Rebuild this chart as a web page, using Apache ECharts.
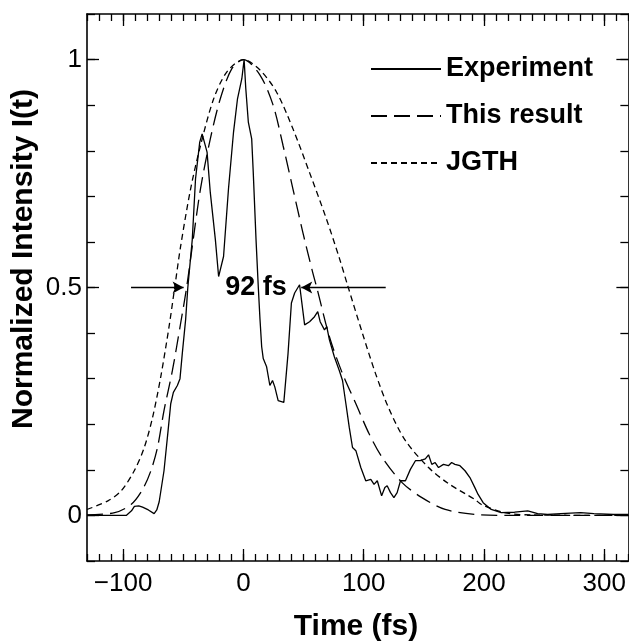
<!DOCTYPE html>
<html>
<head>
<meta charset="utf-8">
<script src="https://cdn.jsdelivr.net/npm/echarts@6/dist/echarts.min.js"></script>
<style>
html,body{margin:0;padding:0;background:#fff;}
#c{width:629px;height:643px;}
</style>
</head>
<body>
<div id="c"></div>
<script>
const FONT = "'Liberation Sans', Arial, Helvetica, sans-serif";
const xMajorTicks = [-100, 0, 100, 200, 300];
const yMajorTicks = [0, 0.5, 1];
const seriesNames = ['Experiment', 'This result', 'JGTH'];

const experiment = [
[-130,0],[-97.4,0],[-93,0.01],[-90.6,0.02],[-87,0.021],[-83.8,0.018],[-79,0.012],[-74.2,0.004],[-72,0.012],[-70,0.03],
[-66,0.098],[-62.6,0.186],[-60.4,0.245],[-58.2,0.27],[-54.9,0.285],[-52.7,0.30],[-50.8,0.355],[-48,0.43],[-46.2,0.5],
[-42.5,0.605],[-39.8,0.738],[-36.3,0.819],[-34.3,0.837],[-33,0.841],[-30.2,0.797],[-27.5,0.708],[-23.3,0.605],[-20.6,0.524],
[-19.2,0.524],[-16.5,0.568],[-12.4,0.716],[-8.2,0.841],[-4.9,0.914],[-1.3,0.958],[0.6,1.0],[2,0.936],[4.1,0.863],[6.9,0.826],
[8.2,0.752],[10.5,0.605],[12.4,0.5],[13.8,0.43],[15.2,0.37],[16.5,0.344],[19.3,0.326],[22,0.285],[24.2,0.296],[26.1,0.282],
[28.9,0.252],[33.6,0.248],[37.1,0.355],[39.9,0.466],[42.6,0.488],[46.7,0.506],[50.9,0.418],[55,0.425],[59.1,0.436],[61.8,0.447],
[63.8,0.425],[67.4,0.407],[69.3,0.414],[71.5,0.385],[75.6,0.348],[79.7,0.318],[82.4,0.296],[85.2,0.245],[88,0.193],[90.7,0.149],
[93.5,0.142],[97.6,0.105],[101.7,0.076],[105.9,0.079],[108.6,0.068],[111.3,0.076],[114.9,0.043],[117.6,0.061],[119.5,0.065],
[122.3,0.05],[125.1,0.039],[127.8,0.05],[130.6,0.076],[134.7,0.076],[138.8,0.101],[143,0.12],[147.1,0.12],[151.2,0.124],
[153.9,0.133],[156.6,0.112],[159.4,0.116],[162.2,0.105],[166.3,0.112],[170.4,0.109],[173.1,0.116],[175.8,0.112],[180,0.109],
[184.2,0.098],[188.3,0.083],[192.4,0.061],[195.1,0.046],[199.3,0.028],[206,0.013],[214.3,0.006],[225.4,0.007],[236.4,0.01],
[244.6,0.004],[252.8,0.002],[263.8,0.004],[280.3,0.006],[291.3,0.004],[307.8,0.002],[320,0.002]
];

const thisResult = [
[-130,0.001],[-107,0.006],[-93.4,0.024],[-83.8,0.057],[-76.9,0.098],[-71.4,0.149],[-66,0.23],[-59,0.318],[-52.2,0.421],
[-47.2,0.5],[-42.5,0.59],[-35.7,0.716],[-27.5,0.826],[-19.2,0.914],[-9.6,0.98],[0,1],[13.8,0.966],[24.7,0.9],[33,0.811],
[41.2,0.716],[49.5,0.62],[57.7,0.532],[61,0.5],[71.5,0.392],[82.4,0.311],[93.5,0.245],[104.5,0.179],[115.4,0.127],
[131.9,0.072],[148.4,0.039],[167.7,0.013],[192.4,0.002],[220,0],[320,0]
];

const jgth = [
[-130,0.013],[-112.6,0.032],[-101.6,0.054],[-90.7,0.098],[-82.4,0.149],[-75.5,0.215],[-68.7,0.304],[-61.8,0.414],[-57.1,0.5],
[-52.2,0.59],[-43.9,0.716],[-35.7,0.811],[-24.7,0.914],[-13.7,0.973],[0,1],[13.8,0.977],[27.5,0.929],[41.2,0.848],[55,0.752],
[68.8,0.652],[79.7,0.565],[86.6,0.505],[98.9,0.4],[110,0.31],[121,0.234],[134.7,0.164],[153.9,0.105],[170.4,0.07],[192.4,0.035],
[197.9,0.024],[217,0.006],[240,0.001],[320,0]
];

const fwhmLabel = '92 fs';
const fwhmLevel = 0.5;
const leftArrow = [-93.4, -49.7];
const rightArrow = [118.3, 48.1];
const labelAt = [10.5, 0.5];

const chart = echarts.init(document.getElementById('c'), null, {renderer: 'canvas'});

const lineCol = '#000';
function xAx(pos, major, showLine, showLabel) {
  const a = {
    type: 'value', position: pos, gridIndex: 0, min: -130, max: 320, interval: 10,
    axisLine: {show: showLine, onZero: false, lineStyle: {color: lineCol, width: 1.6}},
    splitLine: {show: false},
    axisTick: {show: true, inside: true, length: major ? 12 : 7, lineStyle: {color: lineCol, width: 1.3}},
    axisLabel: {show: false}
  };
  if (major) {
    a.axisTick.customValues = xMajorTicks;
    if (showLabel) {
      a.axisLabel = {show: true, customValues: xMajorTicks, fontSize: 26, color: '#000', fontFamily: FONT, margin: 10,
        formatter: v => v < 0 ? '\u2212' + Math.abs(v) : String(v)};
    }
  }
  return a;
}
function yAx(pos, major, showLine, showLabel) {
  const a = {
    type: 'value', position: pos, gridIndex: 0, min: -0.1, max: 1.1, interval: 0.1,
    axisLine: {show: showLine, onZero: false, lineStyle: {color: lineCol, width: 1.6}},
    splitLine: {show: false},
    axisTick: {show: true, inside: true, length: major ? 12 : 8, lineStyle: {color: lineCol, width: 1.3}},
    axisLabel: {show: false}
  };
  if (major) {
    a.axisTick.customValues = yMajorTicks;
    if (showLabel) {
      a.axisLabel = {show: true, customValues: yMajorTicks, fontSize: 26, color: '#000', fontFamily: FONT, margin: 5,
        formatter: v => String(Math.round(v * 10) / 10)};
    }
  }
  return a;
}

const option = {
  animation: false,
  backgroundColor: '#fff',
  grid: {left: 87, top: 14, width: 544.5, height: 547, containLabel: false},
  xAxis: [xAx('bottom', false, true, false), xAx('bottom', true, false, true), xAx('top', false, true, false), xAx('top', true, false, false)],
  yAxis: [yAx('left', false, true, false), yAx('left', true, false, true), yAx('right', false, true, false), yAx('right', true, false, false)],
  legend: {
    orient: 'vertical', left: 370, top: 54, padding: 0, itemWidth: 70, itemHeight: 14, itemGap: 17,
    data: seriesNames,
    itemStyle: {color: 'rgba(0,0,0,0)', borderWidth: 0, opacity: 0},
    textStyle: {fontSize: 27, fontWeight: 'bold', color: '#000', fontFamily: FONT, lineHeight: 30},
    selectedMode: false
  },
  series: [
    {
      name: seriesNames[0], type: 'line', xAxisIndex: 0, yAxisIndex: 0, data: experiment,
      symbol: 'none', lineStyle: {color: '#000', width: 1.3, type: 'solid'}, itemStyle: {color: '#000'}, z: 5,
      markLine: {
        silent: true, symbol: ['none', 'arrow'], symbolSize: [9, 11], label: {show: false},
        lineStyle: {color: '#000', width: 1.3, type: 'solid'},
        data: [
          [{coord: [leftArrow[0], fwhmLevel]}, {coord: [leftArrow[1], fwhmLevel]}],
          [{coord: [rightArrow[0], fwhmLevel]}, {coord: [rightArrow[1], fwhmLevel]}]
        ]
      },
      markPoint: {
        silent: true, symbol: 'circle', symbolSize: 0,
        label: {show: true, position: 'inside', formatter: fwhmLabel, fontSize: 27, fontWeight: 'bold', color: '#000', fontFamily: FONT},
        data: [{coord: labelAt}]
      }
    },
    {
      name: seriesNames[1], type: 'line', xAxisIndex: 0, yAxisIndex: 0, data: thisResult, smooth: 0.3,
      symbol: 'none', lineStyle: {color: '#000', width: 1.3, type: [16, 7]}, itemStyle: {color: '#000'}
    },
    {
      name: seriesNames[2], type: 'line', xAxisIndex: 0, yAxisIndex: 0, data: jgth, smooth: 0.3,
      symbol: 'none', lineStyle: {color: '#000', width: 1.3, type: [6, 4]}, itemStyle: {color: '#000'}
    }
  ],
  graphic: [
    {type: 'text', x: 24, y: 259, rotation: Math.PI / 2,
      style: {text: 'Normalized Intensity I(t)', fontSize: 30, fontWeight: 'bold', fontFamily: FONT, fill: '#000', align: 'center', verticalAlign: 'middle'}},
    {type: 'text', x: 356, y: 627,
      style: {text: 'Time (fs)', fontSize: 30, fontWeight: 'bold', fontFamily: FONT, fill: '#000', align: 'center', verticalAlign: 'middle'}}
  ]
};
chart.setOption(option);
</script>
</body>
</html>
